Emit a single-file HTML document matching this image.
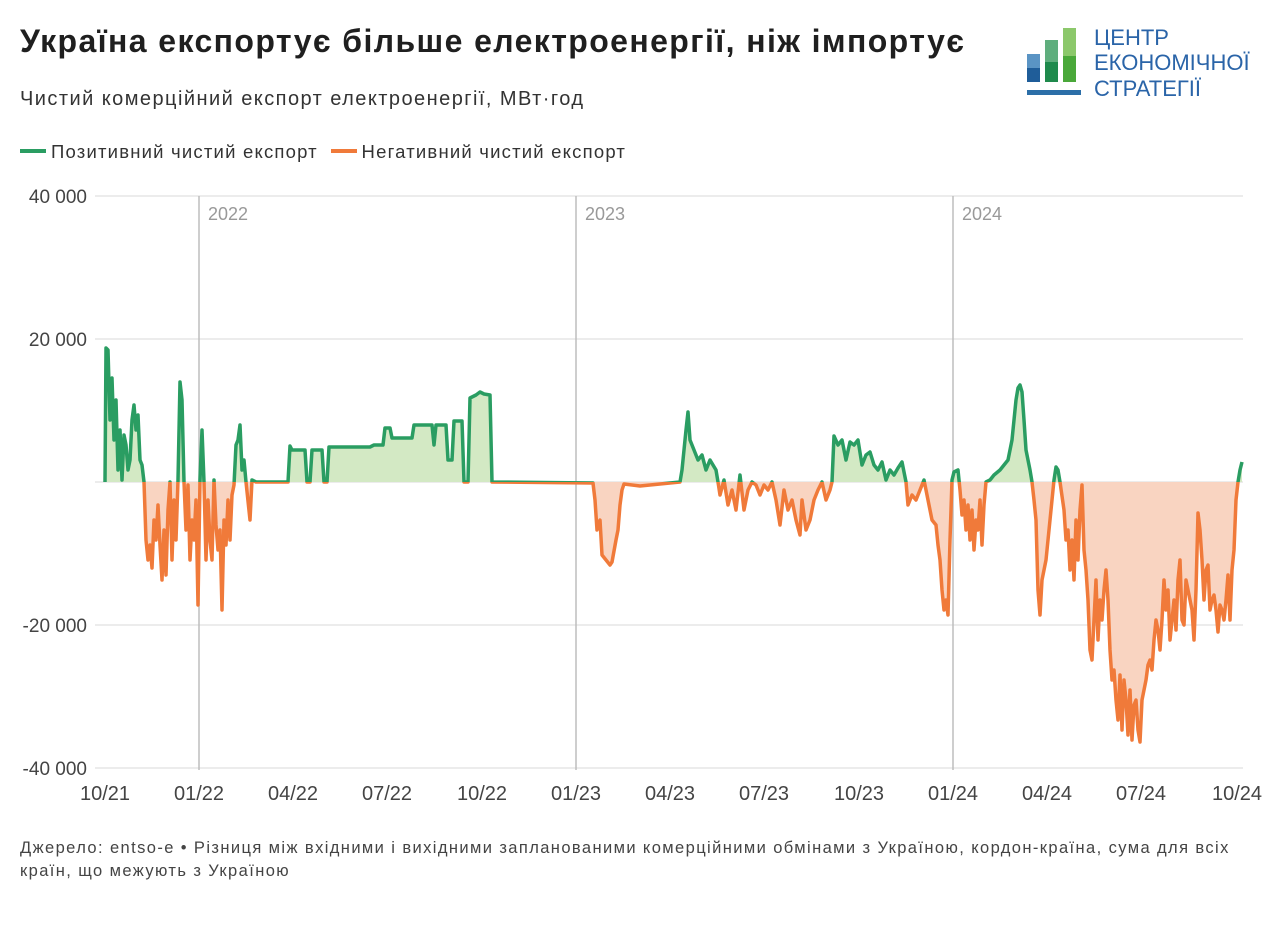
<!DOCTYPE html>
<html><head><meta charset="utf-8"><style>
body{margin:0;background:#fff;width:1280px;height:926px;overflow:hidden;font-family:"Liberation Sans",sans-serif;color:#222;position:relative}
.t{position:absolute;left:20px;top:23px;font-size:32px;font-weight:bold;color:#1f1f1f;letter-spacing:1.4px}
.s{position:absolute;left:20px;top:88px;font-size:20px;color:#333;letter-spacing:1.45px}
.l{position:absolute;left:20px;top:141px;font-size:18.5px;color:#333;letter-spacing:1.2px}
.l span{display:inline-block;width:26px;height:4px;vertical-align:middle;margin-right:5px;position:relative;top:-2px}
.f{position:absolute;left:20px;top:837px;font-size:16.5px;color:#444;line-height:23px;white-space:nowrap;letter-spacing:1.4px}
</style></head><body>
<div class="t">Україна експортує більше електроенергії, ніж імпортує</div>
<div class="s">Чистий комерційний експорт електроенергії, МВт·год</div>
<div class="l"><span style="background:#2a9d62"></span>Позитивний чистий експорт &nbsp;<span style="background:#f07a3a"></span>Негативний чистий експорт</div>
<svg style="position:absolute;left:1024px;top:26px" width="250" height="76">
<rect x="3" y="28" width="13" height="28" fill="#5a94c4"/><rect x="3" y="42" width="13" height="14" fill="#1f5d99"/>
<rect x="21" y="14" width="13" height="42" fill="#5fae7d"/><rect x="21" y="36" width="13" height="20" fill="#1f8a4c"/>
<rect x="39" y="2" width="13" height="54" fill="#8cc86b"/><rect x="39" y="30" width="13" height="26" fill="#4aa83a"/>
<rect x="3" y="64" width="54" height="5" fill="#2c6fa8"/>
<text x="70" y="19" font-size="22" fill="#2a64a8" font-family="Liberation Sans">ЦЕНТР</text>
<text x="70" y="44" font-size="22" fill="#2a64a8" font-family="Liberation Sans">ЕКОНОМІЧНОЇ</text>
<text x="70" y="70" font-size="22" fill="#2a64a8" font-family="Liberation Sans">СТРАТЕГІЇ</text>
</svg>
<svg style="position:absolute;left:0;top:0" width="1280" height="926">
<defs>
<clipPath id="up"><rect x="0" y="0" width="1280" height="482"/></clipPath>
<clipPath id="dn"><rect x="0" y="482" width="1280" height="400"/></clipPath>
</defs>
<g stroke="#e6e6e6" stroke-width="1.5">
<line x1="95" x2="1243" y1="196" y2="196"/><line x1="95" x2="1243" y1="339" y2="339"/><line x1="95" x2="1243" y1="482" y2="482"/><line x1="95" x2="1243" y1="625" y2="625"/><line x1="95" x2="1243" y1="768" y2="768"/>
</g>
<g stroke="#bdbdbd" stroke-width="1.5"><line x1="199" x2="199" y1="196" y2="770"/><line x1="576" x2="576" y1="196" y2="770"/><line x1="953" x2="953" y1="196" y2="770"/></g>
<g font-size="18" fill="#999"><text x="208" y="220">2022</text><text x="585" y="220">2023</text><text x="962" y="220">2024</text></g>
<g font-size="19" fill="#444" text-anchor="end"><text x="87" y="203">40 000</text><text x="87" y="346">20 000</text><text x="87" y="632">-20 000</text><text x="87" y="775">-40 000</text></g>
<g font-size="20" fill="#444" text-anchor="middle"><text x="105" y="800">10/21</text><text x="199" y="800">01/22</text><text x="293" y="800">04/22</text><text x="387" y="800">07/22</text><text x="482" y="800">10/22</text><text x="576" y="800">01/23</text><text x="670" y="800">04/23</text><text x="764" y="800">07/23</text><text x="859" y="800">10/23</text><text x="953" y="800">01/24</text><text x="1047" y="800">04/24</text><text x="1141" y="800">07/24</text><text x="1237" y="800">10/24</text></g>
<g id="d">
<polygon clip-path="url(#up)" fill="#d3e9c4" points="105,482 106,348 108,350 110,420 112,378 114,440 116,400 118,470 120,430 122,480 124,435 126,445 128,470 130,460 132,420 134,405 136,430 138,415 140,460 142,465 144,482 146,540 148,560 150,545 152,568 154,520 156,540 158,505 160,545 162,580 164,530 166,575 168,510 170,482 172,560 174,500 176,540 178,480 180,382 182,400 184,482 186,530 188,485 190,560 192,520 194,540 196,500 198,605 200,480 202,430 204,482 206,560 208,500 210,540 212,560 214,480 216,525 218,550 220,530 222,610 224,520 226,545 228,500 230,540 232,495 234,485 236,445 238,440 240,425 242,470 244,460 246,482 250,520 252,480 256,482 288,482 290,446 292,450 305,450 307,482 310,482 312,450 322,450 324,482 327,482 329,447 370,447 374,445 383,445 385,428 390,428 392,438 412,438 414,425 432,425 434,445 436,425 446,425 448,460 452,460 454,421 462,421 464,482 468,482 470,398 476,395 480,392 484,394 490,395 492,482 593,483 595,500 597,530 600,520 602,555 606,560 610,565 612,562 616,540 618,530 620,505 622,490 624,484 640,486 660,484 680,482 682,470 684,450 686,430 688,412 690,440 694,450 698,460 702,455 706,470 710,460 716,470 718,482 720,495 724,480 728,505 732,490 736,510 740,475 744,510 748,490 752,482 756,485 760,495 764,485 768,490 772,482 776,500 780,525 784,490 788,510 792,500 796,520 800,535 802,500 806,530 810,520 814,500 818,490 822,482 826,500 830,490 832,482 834,436 838,445 842,440 846,460 850,442 854,445 858,440 862,465 866,455 870,452 874,465 878,470 882,462 886,480 890,470 894,475 898,468 902,462 906,482 908,505 912,495 916,500 920,490 924,480 928,500 932,520 936,525 938,545 940,560 942,590 944,610 946,600 948,615 950,540 952,480 954,472 958,470 960,490 962,515 964,500 966,530 968,505 970,540 972,510 974,550 976,520 978,530 980,500 982,545 984,505 986,482 990,480 994,475 1000,470 1004,465 1008,460 1012,440 1016,400 1018,388 1020,385 1022,392 1024,420 1026,450 1030,470 1032,482 1034,500 1036,520 1038,590 1040,615 1042,580 1046,560 1050,520 1054,480 1056,467 1058,470 1060,482 1064,510 1066,540 1068,530 1070,570 1072,540 1074,580 1076,520 1078,560 1080,510 1082,485 1084,550 1086,570 1088,600 1090,650 1092,660 1094,620 1096,580 1098,640 1100,600 1102,620 1104,590 1106,570 1108,600 1110,650 1112,680 1114,670 1116,700 1118,720 1120,675 1122,730 1124,680 1126,700 1128,735 1130,690 1132,740 1134,705 1136,700 1138,730 1140,742 1142,700 1144,690 1146,680 1148,665 1150,660 1152,670 1154,640 1156,620 1158,630 1160,650 1162,620 1164,580 1166,610 1168,590 1170,640 1172,620 1174,600 1176,630 1178,580 1180,560 1182,620 1184,625 1186,580 1188,590 1190,600 1192,610 1194,640 1196,590 1198,513 1200,530 1202,560 1204,600 1206,570 1208,565 1210,610 1212,600 1214,595 1216,610 1218,632 1220,605 1222,610 1224,620 1226,600 1228,575 1230,620 1232,570 1234,550 1236,500 1238,482 1240,470 1242,462 1242,482"/>
</g>
</svg>
<div class="f">Джерело: entso-e • Різниця між вхідними і вихідними запланованими комерційними обмінами з Україною, кордон-країна, сума для всіх<br>країн, що межують з Україною</div>
<script>
var p=document.querySelector('#d polygon');var pts=p.getAttribute('points');
var ns='http://www.w3.org/2000/svg',svg=p.ownerSVGElement;
var p2=p.cloneNode();p2.setAttribute('clip-path','url(#dn)');p2.setAttribute('fill','#f9d4c1');p.parentNode.appendChild(p2);
var lp=pts.split(' ');lp.pop();lp=lp.join(' ');
[['up','#2a9d62'],['dn','#f07a3a']].forEach(function(a){var l=document.createElementNS(ns,'polyline');l.setAttribute('points',lp);l.setAttribute('fill','none');l.setAttribute('stroke',a[1]);l.setAttribute('stroke-width','3.5');l.setAttribute('stroke-linejoin','round');l.setAttribute('clip-path','url(#'+a[0]+')');svg.appendChild(l);});
</script>
</body></html>
